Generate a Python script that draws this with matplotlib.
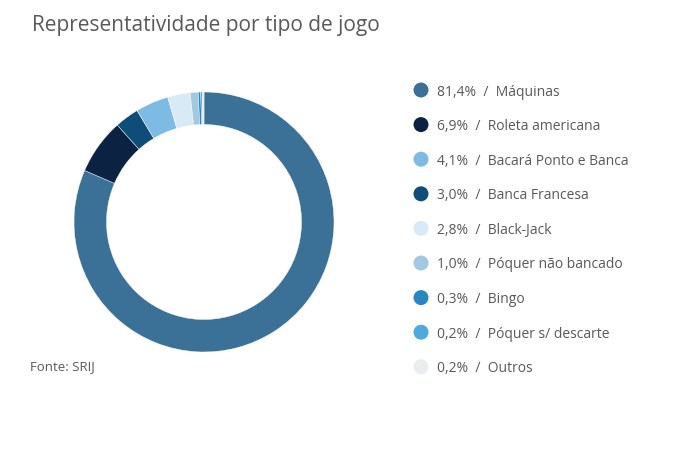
import matplotlib
matplotlib.use('Agg')
import matplotlib.pyplot as plt
from matplotlib.patches import Ellipse

plt.rcParams['font.family'] = ['Open Sans', 'DejaVu Sans']

# dados
legend_labels = ['Máquinas', 'Roleta americana', 'Bacará Ponto e Banca', 'Banca Francesa',
                 'Black-Jack', 'Póquer não bancado', 'Bingo', 'Póquer s/ descarte', 'Outros']
legend_values = [81.4, 6.9, 4.1, 3.0, 2.8, 1.0, 0.3, 0.2, 0.2]
colors = ['#3b7196', '#0b2242', '#7dbbe2', '#0f4d78', '#d8eaf6',
          '#a2c8e2', '#2a86c2', '#4ea9dd', '#e9edf0']
# ordem no anel (sentido horário a partir do topo)
ring_order = [0, 1, 3, 2, 4, 5, 6, 7, 8]

fig = plt.figure(figsize=(7, 4.64), dpi=100)
W, H = 700, 464

fig.text(32/W, 1 - 25/H, 'Representatividade por tipo de jogo', fontsize=15,
         color='#595959', va='center', ha='left')

ax = fig.add_axes([74/W, (H - 353)/H, 260/W, 260/H])
ax.pie([legend_values[i] for i in ring_order], colors=[colors[i] for i in ring_order],
       startangle=90, counterclock=False, radius=1,
       wedgeprops=dict(width=0.25, edgecolor='white', linewidth=0.3))
ax.set_xlim(-1, 1)
ax.set_ylim(-1, 1)
ax.set_aspect('equal')
ax.axis('off')

fig.text(30/W, 1 - 367/H, 'Fonte: SRIJ', fontsize=9.5, color='#595959', va='center', ha='left')

# legenda
for i, (lab, v) in enumerate(zip(legend_labels, legend_values)):
    y = 91 + 34.6 * i
    fig.add_artist(Ellipse((421/W, 1 - y/H), 15/W, 15/H, transform=fig.transFigure,
                           facecolor=colors[i], edgecolor='none'))
    fig.text(437/W, 1 - (y + 1)/H, (f'{v:.1f}%'.replace('.', ',')) + '  /  ' + lab,
             fontsize=10, color='#595959', va='center', ha='left')

fig.savefig('out.png', dpi=100, facecolor='white')
